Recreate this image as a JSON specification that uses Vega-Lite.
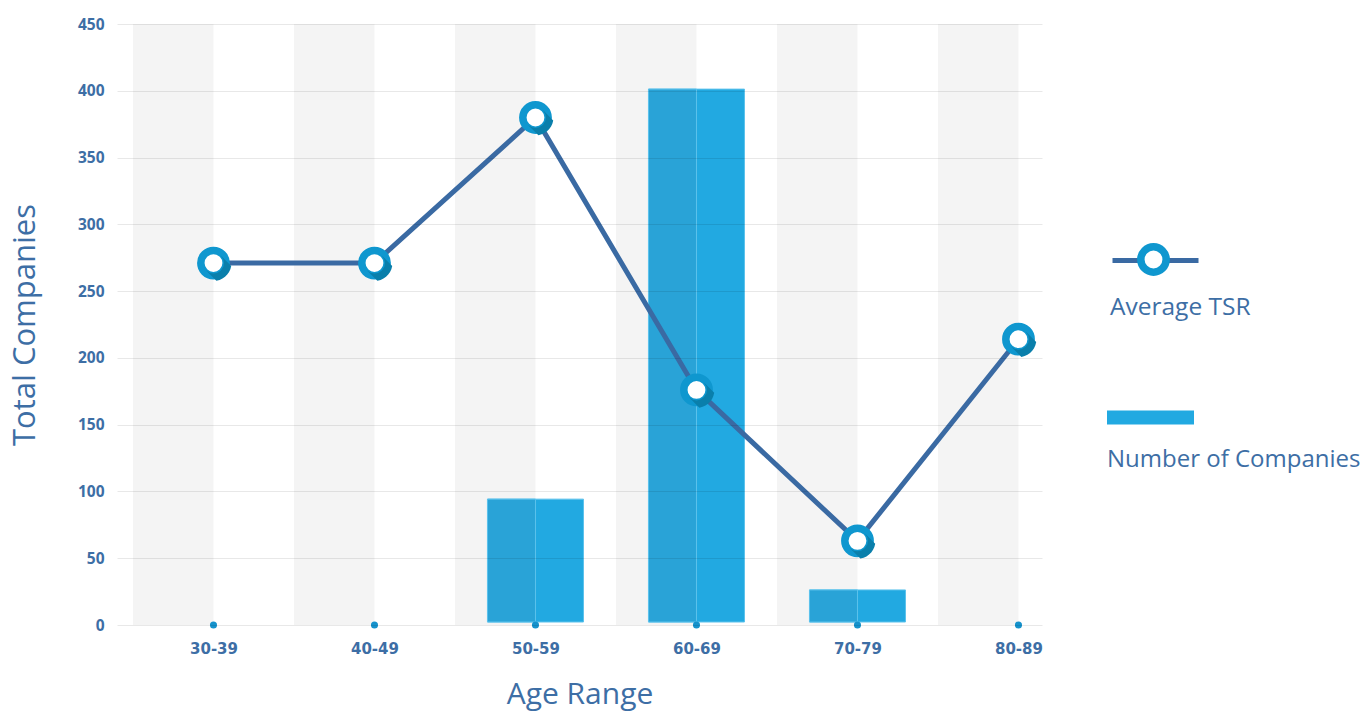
{
  "$schema": "https://vega.github.io/schema/vega-lite/v6.json",
  "autosize": "none",
  "width": 925,
  "height": 601,
  "padding": {"left": 117, "top": 24, "right": 324, "bottom": 86},
  "background": "white",
  "config": {
    "view": {"stroke": null},
    "font": "Open Sans",
    "axisX": {"domain": false, "ticks": false, "grid": false, "labelFont": "DejaVu Sans", "labelFontWeight": "bold", "labelFontSize": 15, "labelColor": "#3d6ea5", "labelPadding": 16, "labelAngle": 0, "titleFont": "Open Sans", "titleFontSize": 30, "titleFontWeight": "normal", "titleColor": "#3d6ea5", "titlePadding": 23},
    "axisY": {"domain": false, "ticks": false, "labelFont": "Open Sans", "labelFontWeight": "bold", "labelFontSize": 15.5, "labelColor": "#3d6ea5", "labelPadding": 13, "titleFont": "Open Sans", "titleFontSize": 31, "titleFontWeight": "normal", "titleColor": "#3d6ea5", "titlePadding": 36}
  },
  "data": {
    "values": [
      {"age": "30-39", "companies": 0, "tsr": 271},
      {"age": "40-49", "companies": 0, "tsr": 271},
      {"age": "50-59", "companies": 92, "tsr": 380},
      {"age": "60-69", "companies": 399, "tsr": 176},
      {"age": "70-79", "companies": 24, "tsr": 63},
      {"age": "80-89", "companies": 0, "tsr": 214}
    ]
  },
  "resolve": {"scale": {"stroke": "independent"}, "legend": {"stroke": "independent"}},
  "encoding": {
    "x": {
      "field": "age",
      "type": "nominal",
      "sort": null,
      "title": "Age Range",
      "scale": {"type": "point", "padding": 0.3727, "align": 0.804}
    }
  },
  "layer": [
    {
      "mark": {"type": "bar", "color": "#f4f4f4", "width": 80.5, "xOffset": -40.25},
      "encoding": {
        "y": {
          "datum": 450,
          "type": "quantitative",
          "title": "Total Companies",
          "scale": {"domain": [0, 450], "nice": false},
          "axis": {
            "values": [0, 50, 100, 150, 200, 250, 300, 350, 400, 450],
            "zindex": 1,
            "grid": true,
            "gridColor": "#000000",
            "gridOpacity": 0.09,
            "gridWidth": 1
          }
        }
      }
    },
    {
      "transform": [{"filter": "datum.companies > 0"}],
      "mark": {"type": "bar", "width": 96, "yOffset": -3, "stroke": "#5cc2ec", "strokeWidth": 1},
      "encoding": {
        "y": {"field": "companies", "type": "quantitative", "title": "Total Companies"},
        "fill": {
          "datum": "Number of Companies",
          "scale": {"range": ["#22a9e1"]},
          "legend": {
            "orient": "none", "legendX": 990, "legendY": 350, "padding": 0,
            "title": "Number of Companies", "titleOrient": "bottom", "titleAnchor": "start", "titleAlign": "left", "titleLimit": 500,
            "titleFont": "Open Sans", "titleFontSize": 24, "titleFontWeight": "normal", "titleColor": "#3d6ea5", "titlePadding": 23,
            "labelExpr": "''", "labelOffset": 0,
            "symbolType": "M-1,-0.163H1V0.163H-1Z", "symbolSize": 7569, "symbolFillColor": "#22a9e1", "symbolStrokeWidth": 0
          }
        }
      }
    },
    {
      "transform": [{"filter": "datum.companies > 0"}],
      "mark": {"type": "bar", "width": 48, "xOffset": -24, "yOffset": -3, "color": "#29a3d7", "stroke": "#5cc2ec", "strokeWidth": 1},
      "encoding": {
        "y": {"field": "companies", "type": "quantitative", "title": "Total Companies"}
      }
    },
    {
      "mark": {"type": "rule", "color": "#1592cc", "strokeWidth": 2},
      "encoding": {
        "y": {"datum": 0, "type": "quantitative"}
      }
    },
    {
      "mark": {"type": "line", "strokeWidth": 5},
      "encoding": {
        "y": {"field": "tsr", "type": "quantitative", "title": "Total Companies"},
        "stroke": {
          "datum": "Average TSR",
          "scale": {"range": ["#3a6aa3"]},
          "legend": {
            "orient": "none", "legendX": 993, "legendY": 191, "padding": 0,
            "title": "Average TSR", "titleOrient": "bottom", "titleAnchor": "start", "titleAlign": "left", "titleLimit": 500,
            "titleFont": "Open Sans", "titleFontSize": 24.5, "titleFontWeight": "normal", "titleColor": "#3d6ea5", "titlePadding": 25,
            "labelExpr": "''", "labelOffset": 0,
            "symbolType": "M-1,0H1", "symbolSize": 7396, "symbolStrokeWidth": 5, "symbolStrokeColor": "#3a6aa3"
          }
        }
      }
    },
    {
      "mark": {"type": "point", "filled": true, "size": 50, "color": "#1592cc", "opacity": 1},
      "encoding": {
        "y": {"datum": 0, "type": "quantitative"}
      }
    },
    {
      "mark": {"type": "point", "filled": false, "shape": "circle", "size": 642, "fill": "#ffffff", "fillOpacity": 1, "strokeOpacity": 1, "strokeWidth": 7.5, "opacity": 1},
      "encoding": {
        "y": {"field": "tsr", "type": "quantitative", "title": "Total Companies"},
        "stroke": {
          "datum": "TSR marker",
          "scale": {"range": ["#0f97cf"]},
          "legend": {
            "orient": "none", "legendX": 1020, "legendY": 219, "padding": 0,
            "title": null, "labelExpr": "''", "labelOffset": 0,
            "symbolType": "circle", "symbolSize": 642, "symbolStrokeWidth": 7.5, "symbolFillColor": "#ffffff", "symbolOpacity": 1
          }
        }
      }
    },
    {
      "mark": {"type": "point", "filled": true, "size": 1290, "shape": "M0.413,-0.413L0.987,0.162L0.94,0.342L0.866,0.5L0.766,0.643L0.643,0.766L0.5,0.866L0.342,0.94L0.162,0.987L-0.413,0.413L-0.2,0.549L0,0.584L0.2,0.549L0.413,0.413L0.549,0.2L0.584,0L0.549,-0.2Z", "color": "#0a7fab", "opacity": 1, "strokeWidth": 0},
      "encoding": {
        "y": {"field": "tsr", "type": "quantitative"}
      }
    }
  ]
}
